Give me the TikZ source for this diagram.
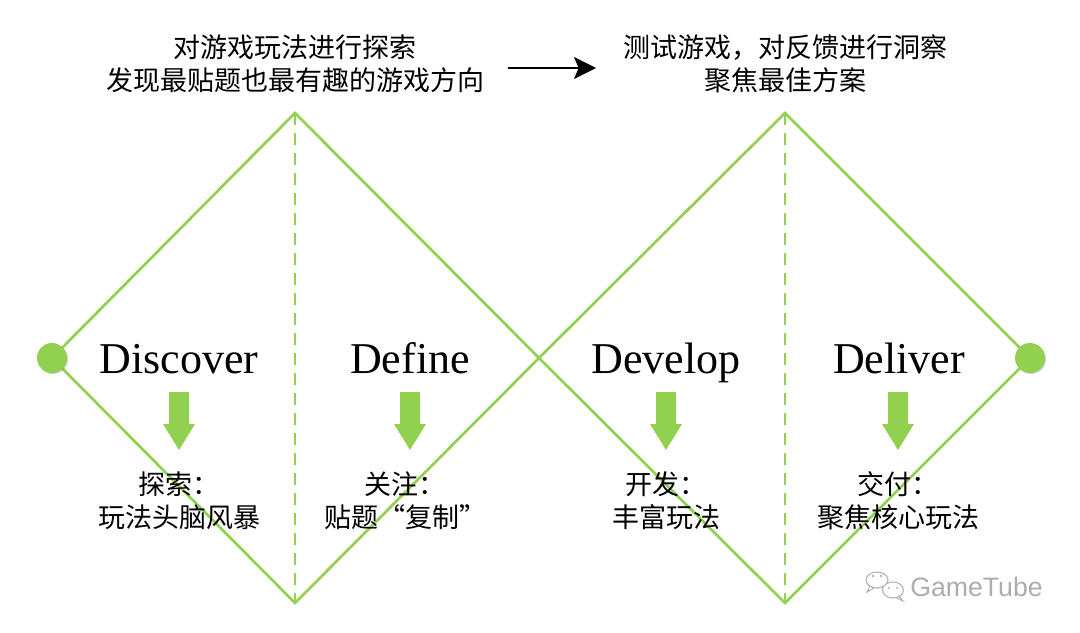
\documentclass[tikz,border=0pt]{standalone}
\usepackage{fontspec}
\setmainfont{Liberation Serif}
\newfontfamily\cjk{Noto Sans CJK SC}
\newfontfamily\wmfont{Liberation Sans}
\usetikzlibrary{arrows.meta,shadows}
\definecolor{dgreen}{HTML}{92D050}
\tikzset{
  diam/.style={draw=dgreen, line width=2pt, line join=miter},
  dashv/.style={draw=dgreen, line width=1.7pt, dash pattern=on 9pt off 6pt},
  endpt/.style={circle, fill=dgreen, minimum size=22.5pt, inner sep=0pt,
    drop shadow={opacity=0.35, shadow xshift=0.8pt, shadow yshift=-0.8pt}},
  phase/.style={font=\fontsize{33}{36}\selectfont, inner sep=0pt, anchor=base},
  cn/.style={font=\cjk\fontsize{20.25}{24.75}\selectfont, align=center, inner sep=0pt},
  fatarrow/.style={fill=dgreen},
}
\begin{document}
\begin{tikzpicture}[x=0.75pt,y=-0.75pt]
\useasboundingbox[fill=white] (0,0) rectangle (1080,632);

% vertices
\coordinate (L) at (52,358);
\coordinate (T1) at (295,113);
\coordinate (B1) at (295,603);
\coordinate (M) at (539,358);
\coordinate (T2) at (785,113);
\coordinate (B2) at (785,603);
\coordinate (R) at (1030,358);

% diamonds
\draw[diam] (L) -- (T1) -- (M) -- (B1) -- cycle;
\draw[diam] (M) -- (T2) -- (R) -- (B2) -- cycle;
\draw[dashv] (T1) -- (B1);
\draw[dashv] (T2) -- (B2);

% end points
\node[endpt] (cl) at (L) {};
\node[endpt] (cr) at (R) {};

% top texts
\node[cn] (tl) at (295,64) {对游戏玩法进行探索\\发现最贴题也最有趣的游戏方向};
\node[cn] (tr) at (785,64) {测试游戏，对反馈进行洞察\\聚焦最佳方案};
\coordinate (as) at (508,68);
\coordinate (ae) at (596,68);
\draw[line width=1.5pt, -{Stealth[length=16.5pt,width=16.5pt,inset=3.5pt]}] (as) -- (ae);

% phase names
\node[phase] (p1) at (179,373) {Discover};
\node[phase] (p2) at (410,373) {Define};
\node[phase] (p3) at (666,373) {Develop};
\node[phase] (p4) at (899,373) {Deliver};

% fat arrows
\foreach \xx in {179,410,666,898}{
  \fill[fatarrow, shift={(\xx,392)}] (-10,0) -- (10,0) -- (10,32) -- (16,32) -- (0,58) -- (-16,32) -- (-10,32) -- cycle;
}

% bottom texts
\node[cn] (d1) at (179,501) {探索：\\玩法头脑风暴};
\node[cn] (d2) at (405,501) {关注：\\贴题“复制”};
\node[cn] (d3) at (666,501) {开发：\\丰富玩法};
\node[cn] (d4) at (898,501) {交付：\\聚焦核心玩法};

% watermark
\begin{scope}[draw=black!30, line width=0.8pt]
  \draw (877,580) ellipse [x radius=11, y radius=8];
  \fill[white] (893,590) ellipse [x radius=10.5, y radius=8];
  \draw (893,590) ellipse [x radius=10.5, y radius=8];
  \draw (870,586) -- (867,592) -- (874,588);
  \draw (899,596) -- (903,601) -- (896,597.5);
  \fill[black!30] (873,576) circle (1.3) (881,576) circle (1.3) (889,588) circle (1.2) (897,588) circle (1.2);
\end{scope}
\node[font=\wmfont\fontsize{20}{23}\selectfont, text=black!32, inner sep=0pt, anchor=west] (wm) at (910,587) {GameTube};
\end{tikzpicture}
\end{document}
